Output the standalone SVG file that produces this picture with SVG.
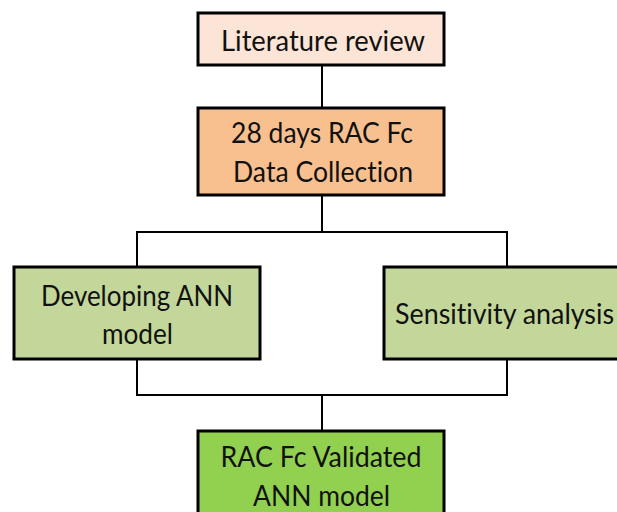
<svg xmlns="http://www.w3.org/2000/svg" width="617" height="512" viewBox="0 0 617 512">
<style>
.box{stroke:#000;stroke-width:3}
.t{font-family:Lato,"Open Sans","Liberation Sans",sans-serif;font-size:28px;fill:#111;font-variant-ligatures:none}
.c{text-anchor:middle}
.conn{fill:none;stroke:#000;stroke-width:2}
</style>
<rect width="617" height="512" fill="#fff"/>
<g id="connectors" class="conn">
<line x1="322" y1="65" x2="322" y2="108"/>
<polyline points="322,195 322,232 137,232 137,267"/>
<polyline points="322,232 507,232 507,267"/>
<polyline points="137,359 137,395 507,395 507,359"/>
<line x1="322" y1="395" x2="322" y2="431"/>
</g>
<g id="literature">
<rect class="box" x="198" y="13" width="246" height="52" fill="#FCE5D6"/>
<text class="t c" x="323" y="51" textLength="204" lengthAdjust="spacingAndGlyphs">Literature review</text>
</g>
<g id="data">
<rect class="box" x="198" y="108" width="246" height="87" fill="#F8C08F"/>
<text class="t c" x="322" y="143" textLength="182" lengthAdjust="spacingAndGlyphs">28 days RAC Fc</text>
<text class="t c" x="323" y="182" textLength="180" lengthAdjust="spacingAndGlyphs">Data Collection</text>
</g>
<g id="ann">
<rect class="box" x="14" y="267" width="246" height="92" fill="#C4D79B"/>
<text class="t c" x="137" y="306" textLength="192" lengthAdjust="spacingAndGlyphs">Developing ANN</text>
<text class="t c" x="137.5" y="344" textLength="71" lengthAdjust="spacingAndGlyphs">model</text>
</g>
<g id="sensitivity">
<rect class="box" x="384" y="267" width="246" height="92" fill="#C4D79B"/>
<text class="t" x="395" y="324" textLength="219" lengthAdjust="spacingAndGlyphs">Sensitivity analysis</text>
</g>
<g id="validated">
<rect class="box" x="198" y="431" width="246" height="100" fill="#92D050"/>
<text class="t c" x="321" y="467" textLength="201" lengthAdjust="spacingAndGlyphs">RAC Fc Validated</text>
<text class="t c" x="321.5" y="506" textLength="137" lengthAdjust="spacingAndGlyphs">ANN model</text>
</g>
</svg>
